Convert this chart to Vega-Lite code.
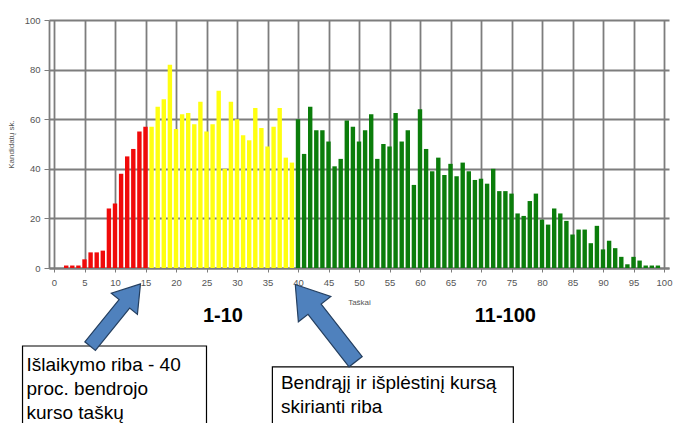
{
  "$schema": "https://vega.github.io/schema/vega-lite/v6.json",
  "width": 620,
  "height": 248,
  "autosize": {"type": "none"},
  "padding": {"left": 49, "top": 20, "right": 7, "bottom": 155},
  "background": "white",
  "config": {
    "view": {"stroke": null},
    "font": "Liberation Sans",
    "axis": {
      "gridColor": "#7d7d7d",
      "gridWidth": 1.8,
      "gridOpacity": 1,
      "domainColor": "#7d7d7d",
      "domainWidth": 1.8,
      "tickColor": "#7d7d7d",
      "labelFont": "Liberation Sans Narrow, Liberation Sans",
      "labelFontSize": 9.5,
      "labelColor": "#555555",
      "titleFont": "Liberation Sans Narrow, Liberation Sans",
      "titleFontSize": 8,
      "titleFontWeight": "normal",
      "titleColor": "#555555"
    },
    "axisX": {
      "grid": true, "tickSize": 4, "labelPadding": 5, "labelFlush": false,
      "labelOverlap": false, "titleY": 34, "titleBaseline": "middle"
    },
    "axisY": {
      "grid": true, "tickSize": 5, "labelPadding": 4,
      "titleX": -38, "titleY": 124, "titleBaseline": "middle", "titleAlign": "center"
    }
  },
  "datasets": {
    "bars": [
      {"score": 2, "count": 1, "band": "0-15"},
      {"score": 3, "count": 1, "band": "0-15"},
      {"score": 4, "count": 1, "band": "0-15"},
      {"score": 5, "count": 3.5, "band": "0-15"},
      {"score": 6, "count": 6.3, "band": "0-15"},
      {"score": 7, "count": 6.3, "band": "0-15"},
      {"score": 8, "count": 7, "band": "0-15"},
      {"score": 9, "count": 24, "band": "0-15"},
      {"score": 10, "count": 26, "band": "0-15"},
      {"score": 11, "count": 38, "band": "0-15"},
      {"score": 12, "count": 45, "band": "0-15"},
      {"score": 13, "count": 48, "band": "0-15"},
      {"score": 14, "count": 55, "band": "0-15"},
      {"score": 15, "count": 57, "band": "0-15"},
      {"score": 16, "count": 57, "band": "16-39"},
      {"score": 17, "count": 65, "band": "16-39"},
      {"score": 18, "count": 68, "band": "16-39"},
      {"score": 19, "count": 82, "band": "16-39"},
      {"score": 20, "count": 56, "band": "16-39"},
      {"score": 21, "count": 62, "band": "16-39"},
      {"score": 22, "count": 62.5, "band": "16-39"},
      {"score": 23, "count": 58, "band": "16-39"},
      {"score": 24, "count": 67, "band": "16-39"},
      {"score": 25, "count": 55, "band": "16-39"},
      {"score": 26, "count": 58, "band": "16-39"},
      {"score": 27, "count": 71.5, "band": "16-39"},
      {"score": 28, "count": 40, "band": "16-39"},
      {"score": 29, "count": 67, "band": "16-39"},
      {"score": 30, "count": 60, "band": "16-39"},
      {"score": 31, "count": 53.5, "band": "16-39"},
      {"score": 32, "count": 51.5, "band": "16-39"},
      {"score": 33, "count": 64.5, "band": "16-39"},
      {"score": 34, "count": 56.5, "band": "16-39"},
      {"score": 35, "count": 49, "band": "16-39"},
      {"score": 36, "count": 57, "band": "16-39"},
      {"score": 37, "count": 64.5, "band": "16-39"},
      {"score": 38, "count": 44.5, "band": "16-39"},
      {"score": 39, "count": 42.5, "band": "16-39"},
      {"score": 40, "count": 60, "band": "40-100"},
      {"score": 41, "count": 46, "band": "40-100"},
      {"score": 42, "count": 65, "band": "40-100"},
      {"score": 43, "count": 55.5, "band": "40-100"},
      {"score": 44, "count": 55.5, "band": "40-100"},
      {"score": 45, "count": 51, "band": "40-100"},
      {"score": 46, "count": 41, "band": "40-100"},
      {"score": 47, "count": 44, "band": "40-100"},
      {"score": 48, "count": 59.5, "band": "40-100"},
      {"score": 49, "count": 57, "band": "40-100"},
      {"score": 50, "count": 51, "band": "40-100"},
      {"score": 51, "count": 55.5, "band": "40-100"},
      {"score": 52, "count": 62, "band": "40-100"},
      {"score": 53, "count": 44, "band": "40-100"},
      {"score": 54, "count": 50, "band": "40-100"},
      {"score": 55, "count": 49, "band": "40-100"},
      {"score": 56, "count": 62.5, "band": "40-100"},
      {"score": 57, "count": 51, "band": "40-100"},
      {"score": 58, "count": 55.5, "band": "40-100"},
      {"score": 59, "count": 33.5, "band": "40-100"},
      {"score": 60, "count": 64, "band": "40-100"},
      {"score": 61, "count": 48, "band": "40-100"},
      {"score": 62, "count": 39, "band": "40-100"},
      {"score": 63, "count": 44.5, "band": "40-100"},
      {"score": 64, "count": 37.5, "band": "40-100"},
      {"score": 65, "count": 42, "band": "40-100"},
      {"score": 66, "count": 37, "band": "40-100"},
      {"score": 67, "count": 42.5, "band": "40-100"},
      {"score": 68, "count": 39, "band": "40-100"},
      {"score": 69, "count": 35.5, "band": "40-100"},
      {"score": 70, "count": 36, "band": "40-100"},
      {"score": 71, "count": 34, "band": "40-100"},
      {"score": 72, "count": 40, "band": "40-100"},
      {"score": 73, "count": 31, "band": "40-100"},
      {"score": 74, "count": 31, "band": "40-100"},
      {"score": 75, "count": 30, "band": "40-100"},
      {"score": 76, "count": 22, "band": "40-100"},
      {"score": 77, "count": 21, "band": "40-100"},
      {"score": 78, "count": 27, "band": "40-100"},
      {"score": 79, "count": 30, "band": "40-100"},
      {"score": 80, "count": 19.5, "band": "40-100"},
      {"score": 81, "count": 17.5, "band": "40-100"},
      {"score": 82, "count": 24, "band": "40-100"},
      {"score": 83, "count": 22, "band": "40-100"},
      {"score": 84, "count": 19, "band": "40-100"},
      {"score": 85, "count": 13.5, "band": "40-100"},
      {"score": 86, "count": 15.5, "band": "40-100"},
      {"score": 87, "count": 15.5, "band": "40-100"},
      {"score": 88, "count": 10, "band": "40-100"},
      {"score": 89, "count": 17, "band": "40-100"},
      {"score": 90, "count": 7.5, "band": "40-100"},
      {"score": 91, "count": 11, "band": "40-100"},
      {"score": 92, "count": 8, "band": "40-100"},
      {"score": 93, "count": 4.5, "band": "40-100"},
      {"score": 94, "count": 1.5, "band": "40-100"},
      {"score": 95, "count": 4.5, "band": "40-100"},
      {"score": 96, "count": 3, "band": "40-100"},
      {"score": 97, "count": 1, "band": "40-100"},
      {"score": 98, "count": 1, "band": "40-100"},
      {"score": 99, "count": 1, "band": "40-100"}
    ],
    "grades": [
      {"x": 27.7, "y": -21.8, "text": "1-10"},
      {"x": 74, "y": -21.8, "text": "11-100"}
    ],
    "boxes": [
      {"x": -5.16, "x2": 25, "y": -31.45, "y2": -70},
      {"x": 35.8, "x2": 75.3, "y": -39.9, "y2": -70}
    ],
    "notes": [
      {"x": -4.5, "y": -41.5, "text": "Išlaikymo riba - 40"},
      {"x": -4.5, "y": -51.2, "text": "proc. bendrojo"},
      {"x": -4.5, "y": -60.9, "text": "kurso taškų"},
      {"x": 37.2, "y": -48.8, "text": "Bendrąjį ir išplėstinį kursą"},
      {"x": 37.2, "y": -58.5, "text": "skirianti riba"}
    ],
    "arrows": [
      {"x": 10.05, "y": -18.95, "target": "15"}
    ],
    "arrows2": [
      {"x": 44.5, "y": -22.2, "target": "40"}
    ]
  },
  "layer": [
    {
      "data": {"name": "bars"},
      "mark": {"type": "bar", "size": 4.4},
      "encoding": {
        "x": {
          "field": "score", "type": "quantitative", "title": "Taškai",
          "scale": {"domain": [0, 100], "nice": false, "zero": false},
          "axis": {"values": [0,5,10,15,20,25,30,35,40,45,50,55,60,65,70,75,80,85,90,95,100]}
        },
        "y": {
          "field": "count", "type": "quantitative", "title": "Kandidatų sk.",
          "scale": {"domain": [0, 100], "nice": false},
          "axis": {"values": [0, 20, 40, 60, 80, 100]}
        },
        "color": {
          "field": "band", "type": "nominal",
          "scale": {"domain": ["0-15", "16-39", "40-100"], "range": ["#f00a0a", "#ffff10", "#0b7d0b"]},
          "legend": null
        }
      }
    },
    {
      "data": {"name": "boxes"},
      "mark": {"type": "rect", "fill": "white", "stroke": "black", "strokeWidth": 1.2},
      "encoding": {
        "x": {"field": "x", "type": "quantitative", "title": "Taškai", "axis": {"values": [0,5,10,15,20,25,30,35,40,45,50,55,60,65,70,75,80,85,90,95,100]}},
        "x2": {"field": "x2"},
        "y": {"field": "y", "type": "quantitative", "title": "Kandidatų sk.", "axis": {"values": [0, 20, 40, 60, 80, 100]}},
        "y2": {"field": "y2"}
      }
    },
    {
      "data": {"name": "notes"},
      "mark": {"type": "text", "align": "left", "baseline": "alphabetic", "fontSize": 19, "font": "Liberation Sans", "color": "black"},
      "encoding": {
        "x": {"field": "x", "type": "quantitative", "title": "Taškai", "axis": {"values": [0,5,10,15,20,25,30,35,40,45,50,55,60,65,70,75,80,85,90,95,100]}},
        "y": {"field": "y", "type": "quantitative", "title": "Kandidatų sk.", "axis": {"values": [0, 20, 40, 60, 80, 100]}},
        "text": {"field": "text"}
      }
    },
    {
      "data": {"name": "grades"},
      "mark": {"type": "text", "align": "center", "baseline": "alphabetic", "fontSize": 20, "fontWeight": "bold", "font": "Liberation Sans", "color": "black"},
      "encoding": {
        "x": {"field": "x", "type": "quantitative", "title": "Taškai", "axis": {"values": [0,5,10,15,20,25,30,35,40,45,50,55,60,65,70,75,80,85,90,95,100]}},
        "y": {"field": "y", "type": "quantitative", "title": "Kandidatų sk.", "axis": {"values": [0, 20, 40, 60, 80, 100]}},
        "text": {"field": "text"}
      }
    },
    {
      "data": {"name": "arrows"},
      "mark": {
        "type": "point",
        "shape": "M0,-1 L0.42,-0.36 L0.17,-0.36 L0.17,1 L-0.17,1 L-0.17,-0.36 L-0.42,-0.36 Z",
        "filled": true, "fill": "#4f81bd", "stroke": "#243f60", "strokeWidth": 1.2,
        "opacity": 1, "fillOpacity": 1, "size": 6400, "angle": 39
      },
      "encoding": {
        "x": {"field": "x", "type": "quantitative", "title": "Taškai", "axis": {"values": [0,5,10,15,20,25,30,35,40,45,50,55,60,65,70,75,80,85,90,95,100]}},
        "y": {"field": "y", "type": "quantitative", "title": "Kandidatų sk.", "axis": {"values": [0, 20, 40, 60, 80, 100]}}
      }
    },
    {
      "data": {"name": "arrows2"},
      "mark": {
        "type": "point",
        "shape": "M0,-1 L0.42,-0.36 L0.17,-0.36 L0.17,1 L-0.17,1 L-0.17,-0.36 L-0.42,-0.36 Z",
        "filled": true, "fill": "#4f81bd", "stroke": "#243f60", "strokeWidth": 1.2,
        "opacity": 1, "fillOpacity": 1, "size": 9604, "angle": 322
      },
      "encoding": {
        "x": {"field": "x", "type": "quantitative", "title": "Taškai", "axis": {"values": [0,5,10,15,20,25,30,35,40,45,50,55,60,65,70,75,80,85,90,95,100]}},
        "y": {"field": "y", "type": "quantitative", "title": "Kandidatų sk.", "axis": {"values": [0, 20, 40, 60, 80, 100]}}
      }
    }
  ]
}
